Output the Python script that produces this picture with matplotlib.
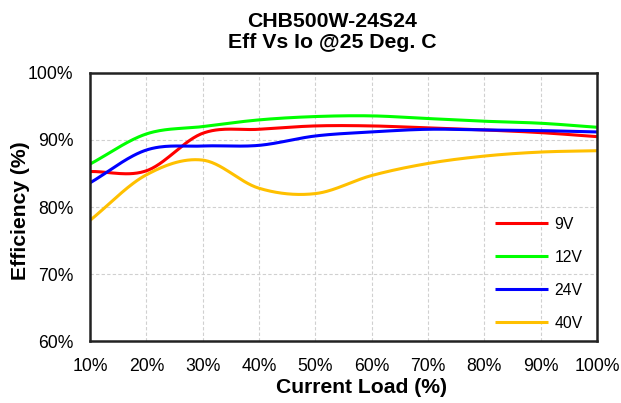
import numpy as np
import matplotlib
matplotlib.use('Agg')
import matplotlib.pyplot as plt

plt.rcParams['font.family'] = ['Liberation Sans', 'DejaVu Sans']

# load points (%) and efficiency (%)
load = [10, 20, 30, 40, 50, 60, 70, 80, 90, 100]
eff_9v = [85.3, 85.4, 91.0, 91.6, 92.1, 92.1, 91.8, 91.5, 91.1, 90.5]
eff_12v = [86.4, 90.9, 92.0, 93.0, 93.5, 93.6, 93.2, 92.8, 92.5, 91.9]
eff_24v = [83.6, 88.5, 89.1, 89.2, 90.6, 91.2, 91.6, 91.5, 91.4, 91.2]
eff_40v = [78.0, 84.8, 87.0, 82.8, 82.0, 84.7, 86.5, 87.6, 88.2, 88.4]

series = [('9V', eff_9v, '#FF0000'),
          ('12V', eff_12v, '#00FF00'),
          ('24V', eff_24v, '#0000FF'),
          ('40V', eff_40v, '#FFC000')]

xticks = [10, 20, 30, 40, 50, 60, 70, 80, 90, 100]
yticks = [60, 70, 80, 90, 100]


def smooth(x, y, n=30):
    # catmull-rom rendering of the line, like Excel's "smoothed line"
    x = np.asarray(x, float)
    y = np.asarray(y, float)
    px = np.concatenate([[2 * x[0] - x[1]], x, [2 * x[-1] - x[-2]]])
    py = np.concatenate([[2 * y[0] - y[1]], y, [2 * y[-1] - y[-2]]])
    t = np.linspace(0, 1, n, endpoint=False)
    xs, ys = [], []
    for i in range(1, len(px) - 2):
        for p, out in ((px, xs), (py, ys)):
            p0, p1, p2, p3 = p[i - 1], p[i], p[i + 1], p[i + 2]
            out.extend(0.5 * (2 * p1 + (-p0 + p2) * t
                              + (2 * p0 - 5 * p1 + 4 * p2 - p3) * t ** 2
                              + (-p0 + 3 * p1 - 3 * p2 + p3) * t ** 3))
    xs.append(x[-1])
    ys.append(y[-1])
    return np.array(xs), np.array(ys)


fig = plt.figure(figsize=(6.21, 4.03), dpi=100)
ax = fig.add_axes([0.1449, 0.1538, 0.8165, 0.6651])

for name, vals, col in series:
    sx, sy = smooth(load, vals)
    ax.plot(sx, sy, color=col, lw=2.2, label=name, solid_capstyle='butt')

ax.set_xlim(10, 100)
ax.set_ylim(60, 100)
ax.set_xticks(xticks)
ax.set_xticklabels(['%d%%' % v for v in xticks])
ax.set_yticks(yticks)
ax.set_yticklabels(['%d%%' % v for v in yticks])
ax.tick_params(axis='both', length=0, labelsize=12.7, colors='black')
ax.tick_params(axis='y', pad=12)
ax.tick_params(axis='x', pad=12)
ax.grid(True, color='#D0D0D0', ls=(0, (3, 2)), lw=0.8)
for sp in ax.spines.values():
    sp.set_linewidth(1.8)
    sp.set_color('#222222')

ax.set_xlabel('Current Load (%)', fontsize=15.2, fontweight='bold')
ax.xaxis.set_label_coords(0.5355, -0.138)
ax.set_ylabel('Efficiency (%)', fontsize=15.2, fontweight='bold')
ax.yaxis.set_label_coords(-0.118, 0.485)
fig.text(0.5346, 0.97, 'CHB500W-24S24\nEff Vs Io @25 Deg. C', ha='center', va='top',
         fontsize=15.3, fontweight='bold', linespacing=1.12)

leg = ax.legend(loc='lower right', bbox_to_anchor=(1.0, -0.015), frameon=False,
                fontsize=11.3, handlelength=3.4, labelspacing=1.15, handletextpad=0.4)

fig.savefig('out.png', dpi=100)
